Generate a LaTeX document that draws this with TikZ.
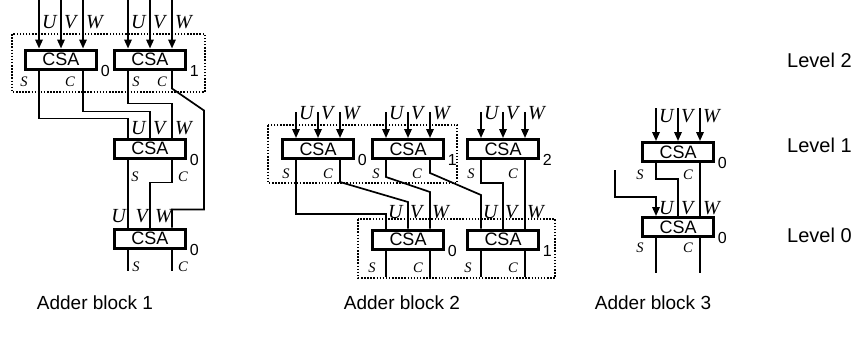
\documentclass[tikz,border=0pt]{standalone}
\usepackage{fontspec}
\setmainfont{Liberation Sans}
\newfontfamily\tms{Liberation Serif}
\usetikzlibrary{arrows.meta}

\begin{document}
\begin{tikzpicture}[x=1pt,y=-1pt,
  csa/.style={draw,line width=3pt,minimum width=70.5pt,minimum height=19pt,
              inner sep=0pt,font=\fontsize{18}{18}\selectfont},
  wire/.style={line width=1.7pt},
  inarr/.style={wire,-{Triangle[length=9pt,width=7.5pt]}},
  grp/.style={line width=1.5pt,dash pattern=on 1.5pt off 1.6pt},
  io/.style={inner sep=0pt,font=\tms\itshape\fontsize{20}{20}\selectfont},
  sc/.style={inner sep=0pt,font=\tms\itshape\fontsize{14.5}{14.5}\selectfont},
  idx/.style={inner sep=0pt,anchor=west,xshift=3pt,font=\fontsize{16}{16}\selectfont},
  captxt/.style={inner sep=0pt,font=\fontsize{19}{19}\selectfont}
]
\useasboundingbox (0,0) rectangle (861,338);

% adder block 1
\node[csa] (b1l2a) at (61,59.5) {CSA};
\node[csa] (b1l2b) at (150,59.5) {CSA};
\node[csa] (b1l1) at (150,148.5) {CSA};
\node[csa] (b1l0) at (150,238.5) {CSA};
\node[idx] (n1a) at (b1l2a.south east) {0};
\node[idx] (n1b) at (b1l2b.south east) {1};
\node[idx] (n1c) at (b1l1.south east) {0};
\node[idx] (n1d) at (b1l0.south east) {0};

% adder block 2
\node[csa] (b2l1a) at (318,149) {CSA};
\node[csa] (b2l1b) at (408,149) {CSA};
\node[csa] (b2l1c) at (503,149) {CSA};
\node[csa] (b2l0a) at (408,239.5) {CSA};
\node[csa] (b2l0b) at (503,239.5) {CSA};
\node[idx] (n2a) at (b2l1a.south east) {0};
\node[idx] (n2b) at (b2l1b.south east) {1};
\node[idx] (n2c) at (b2l1c.south east) {2};
\node[idx] (n2d) at (b2l0a.south east) {0};
\node[idx] (n2e) at (b2l0b.south east) {1};

% adder block 3
\node[csa] (b3l1) at (678,152) {CSA};
\node[csa] (b3l0) at (678,227) {CSA};
\node[idx] (n3a) at (b3l1.south east) {0};
\node[idx] (n3b) at (b3l0.south east) {0};
\coordinate (b3in) at (615,170);

% groups
\draw[grp] (12,34) rectangle (205,92);
\draw[grp] (268,125) rectangle (457,183);
\draw[grp] (358,219) rectangle (555,278);

% inputs from outside
\foreach \n in {b1l2a,b1l2b}
  \foreach \dx in {-22,0,22}
    \draw[inarr] ([xshift=\dx pt]\n.north) ++(0,-48.5) -- ([xshift=\dx pt]\n.north);
\foreach \n in {b2l1a,b2l1b,b2l1c}
  \foreach \dx in {-22,0,22}
    \draw[inarr] ([xshift=\dx pt]\n.north) ++(0,-26) -- ([xshift=\dx pt]\n.north);
\foreach \dx in {-22,0,22}
  \draw[inarr] ([xshift=\dx pt]b3l1.north) ++(0,-33) -- ([xshift=\dx pt]b3l1.north);

% block 1 wiring
\draw[wire] ([xshift=-22pt]b1l2a.south) -- ++(0,48) -| ([xshift=-22pt]b1l1.north);
\draw[wire] ([xshift=22pt]b1l2a.south) -- ++(0,41) -| (b1l1.north);
\draw[wire] ([xshift=-22pt]b1l2b.south) -- ++(0,33) -| ([xshift=22pt]b1l1.north);
\draw[wire] ([xshift=22pt]b1l2b.south) -- ++(0,18) -- ++(32,22) -- ++(0,99)
  -| ([xshift=22pt]b1l0.north);
\draw[wire] ([xshift=-22pt]b1l1.south) -- ([xshift=-22pt]b1l0.north);
\draw[wire] ([xshift=22pt]b1l1.south) -- ++(0,23) -| (b1l0.north);
\draw[wire] ([xshift=-22pt]b1l0.south) -- ++(0,21);
\draw[wire] ([xshift=22pt]b1l0.south) -- ++(0,21);

% block 2 wiring
\draw[wire] ([xshift=-22pt]b2l1a.south) -- ++(0,54) -| ([xshift=-22pt]b2l0a.north);
\draw[wire] ([xshift=22pt]b2l1a.south) -- ++(0,22) -- ++(68,20) -- (b2l0a.north);
\draw[wire] ([xshift=-22pt]b2l1b.south) -- ++(0,17) -- ++(44,15) -- ([xshift=22pt]b2l0a.north);
\draw[wire] ([xshift=22pt]b2l1b.south) -- ++(0,13) -- ++(51,22) -- ([xshift=-22pt]b2l0b.north);
\draw[wire] ([xshift=-22pt]b2l1c.south) -- ++(0,23) -| (b2l0b.north);
\draw[wire] ([xshift=22pt]b2l1c.south) -- ([xshift=22pt]b2l0b.north);
\foreach \n in {b2l0a,b2l0b}
  \foreach \dx in {-22,22}
    \draw[wire] ([xshift=\dx pt]\n.south) -- ++(0,26);

% block 3 wiring
\draw[wire] ([xshift=-22pt]b3l1.south) -- ++(0,16) -| (b3l0.north);
\draw[wire] ([xshift=22pt]b3l1.south) -- ([xshift=22pt]b3l0.north);
\draw[inarr] (b3in) -- ++(0,27) -| ([xshift=-22pt]b3l0.north);
\draw[wire] ([xshift=-22pt]b3l0.south) -- ++(0,35);
\draw[wire] ([xshift=22pt]b3l0.south) -- ++(0,35);

% port labels
\foreach \x/\t in {42/U,64/V,86/W,131/U,153/V,175/W}
  \node[io,anchor=west] (pa\x) at (\x,22) {\t};
\foreach \x/\t in {131/U,153/V,175/W}
  \node[io,anchor=west] (pb\x) at (\x,128) {\t};
\foreach \x/\t in {126/U,148/V,172/W}
  \node[io,anchor=east] (pc\x) at (\x,216) {\t};
\foreach \x/\t in {299/U,321/V,343/W,389/U,411/V,433/W,484/U,506/V,528/W}
  \node[io,anchor=west] (pd\x) at (\x,113) {\t};
\foreach \x/\t in {388/U,410/V,432/W,483/U,505/V,527/W}
  \node[io,anchor=west] (pe\x) at (\x,212) {\t};
\foreach \x/\t in {659/U,681/V,703/W}
  \node[io,anchor=west] (pf\x) at (\x,116) {\t};
\foreach \x/\t in {659/U,681/V,703/W}
  \node[io,anchor=west] (pg\x) at (\x,208) {\t};

\foreach \x/\t in {24/S,70/C,136/S,162/C}
  \node[sc] (sa\x) at (\x,82) {\t};
\foreach \x/\t in {135/S,183/C}
  \node[sc] (sb\x) at (\x,177) {\t};
\foreach \x/\t in {136/S,183/C}
  \node[sc] (sc\x) at (\x,267) {\t};
\foreach \x/\t in {286/S,328/C,376/S,417/C,471/S,513/C}
  \node[sc] (sd\x) at (\x,174) {\t};
\foreach \x/\t in {372/S,418/C,468/S,513/C}
  \node[sc] (se\x) at (\x,268) {\t};
\foreach \x/\t in {640/S,688/C}
  \node[sc] (sf\x) at (\x,175) {\t};
\foreach \x/\t in {640/S,688/C}
  \node[sc] (sg\x) at (\x,248) {\t};

% captions
\node[captxt,anchor=west,font=\fontsize{20}{20}\selectfont] (lv2) at (787,60) {Level 2};
\node[captxt,anchor=west,font=\fontsize{20}{20}\selectfont] (lv1) at (787,145) {Level 1};
\node[captxt,anchor=west,font=\fontsize{20}{20}\selectfont] (lv0) at (787,235) {Level 0};
\node[captxt] (ab1) at (95,303) {Adder block 1};
\node[captxt] (ab2) at (402,303) {Adder block 2};
\node[captxt] (ab3) at (653,303) {Adder block 3};
\end{tikzpicture}
\end{document}
